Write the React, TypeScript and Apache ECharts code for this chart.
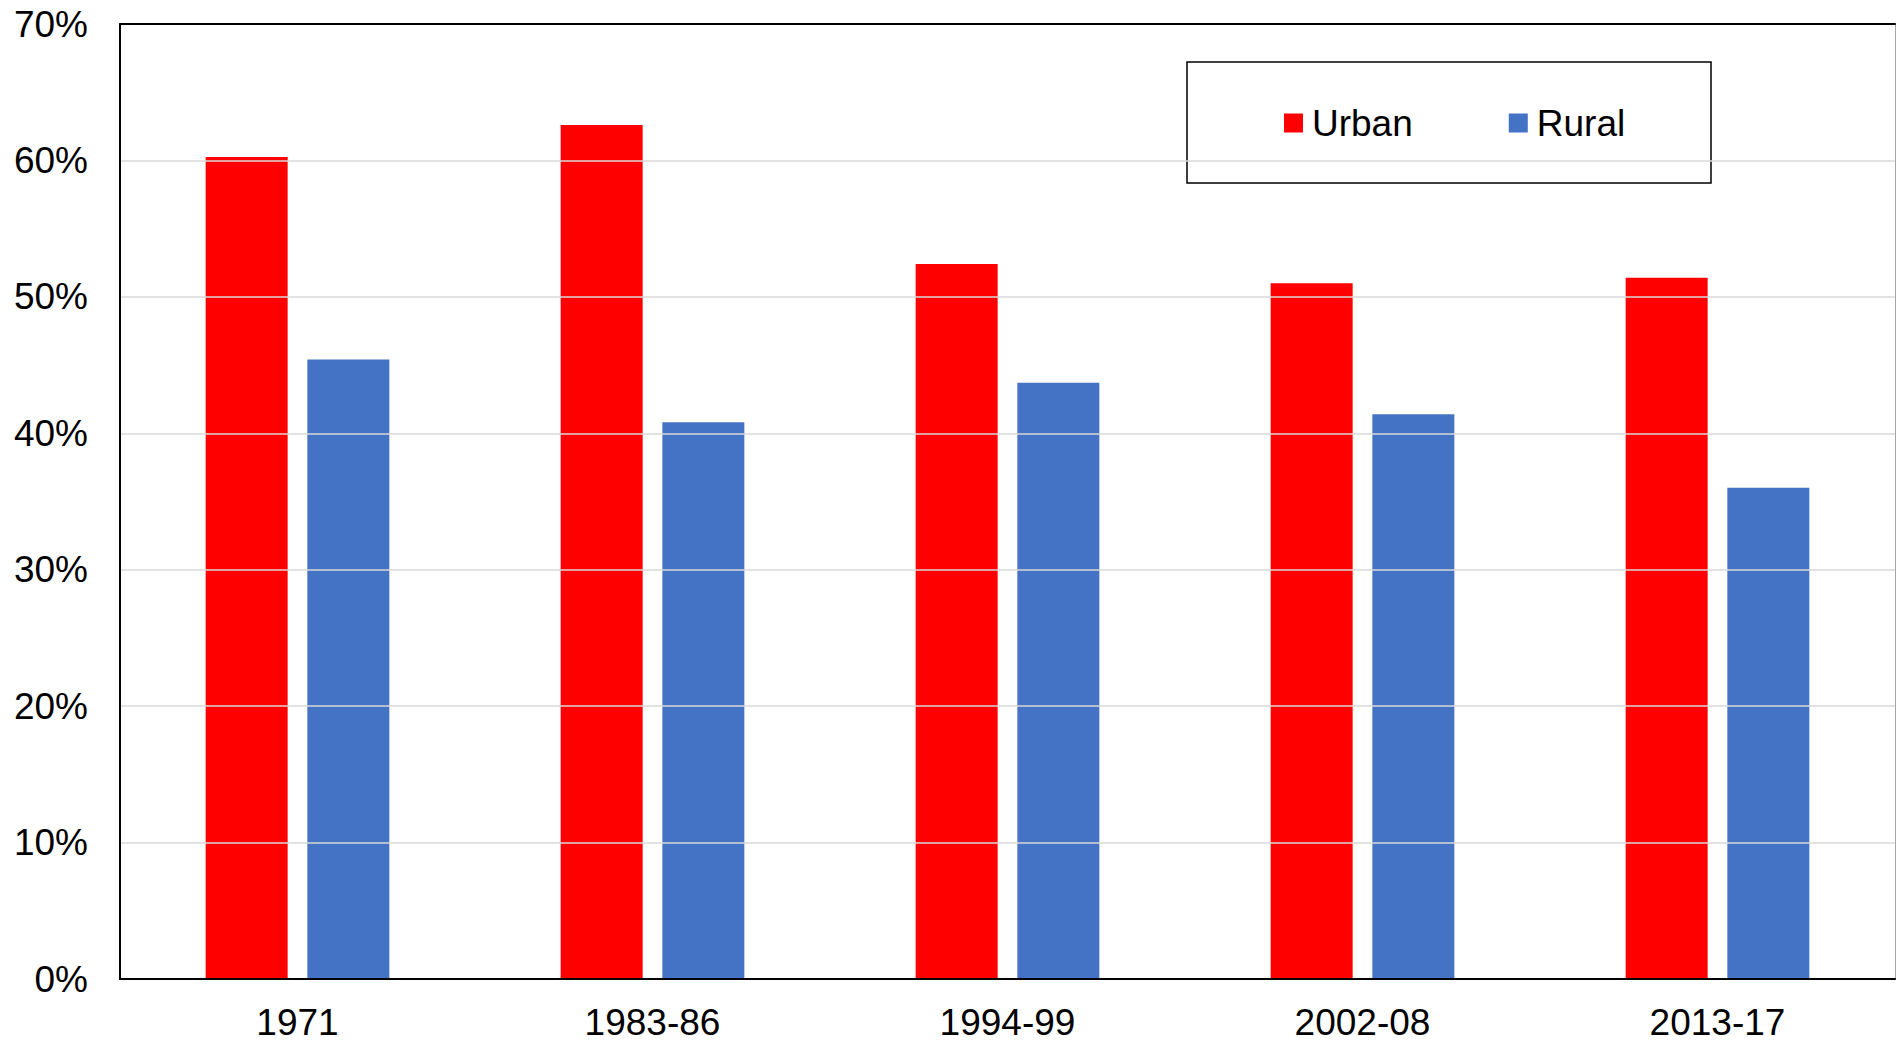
import React, { useEffect, useRef } from "react";
import * as echarts from "echarts";

const categories = ["1971", "1983-86", "1994-99", "2002-08", "2013-17"];
const urbanValues = [60.25, 62.6, 52.4, 51.0, 51.4];
const ruralValues = [45.4, 40.8, 43.7, 41.4, 36.0];
const seriesNames = ["Urban", "Rural"];
const yTicks = { min: 0, max: 70, interval: 10 };

const FONT = "'Liberation Sans', Arial, sans-serif";

export default function App() {
  const ref = useRef<HTMLDivElement>(null);
  useEffect(() => {
    document.body.style.margin = "0";
    const chart = echarts.init(ref.current!, null, { renderer: "svg" });
    chart.setOption({
      animation: false,
      backgroundColor: "#ffffff",
      textStyle: { fontFamily: FONT },
      grid: { left: 120, top: 24, right: 1, bottom: 62, containLabel: false },
      legend: {
        data: seriesNames,
        left: 1284,
        top: 104,
        padding: 0,
        itemWidth: 19,
        itemHeight: 19,
        itemGap: 96,
        icon: "rect",
        textStyle: {
          fontSize: 37,
          color: "#000",
          fontFamily: FONT,
          lineHeight: 38,
          padding: [0, 0, 0, 4],
        },
      },
      graphic: [
        {
          type: "rect",
          shape: { x: 1187, y: 62, width: 524, height: 121 },
          style: { fill: "#ffffff", stroke: "#000000", lineWidth: 1.5 },
          z: -1,
          zlevel: 0,
        },
      ],
      xAxis: [
        {
          type: "category",
          data: categories,
          position: "bottom",
          z: 10,
          axisLine: { show: true, onZero: false, lineStyle: { color: "#000", width: 2 } },
          axisTick: { show: false },
          axisLabel: {
            fontSize: 37,
            lineHeight: 36,
            color: "#000",
            margin: 25,
            fontFamily: FONT,
          },
          splitLine: { show: false },
        },
        {
          type: "category",
          data: categories,
          position: "top",
          z: 10,
          axisLine: { show: true, onZero: false, lineStyle: { color: "#000", width: 2 } },
          axisTick: { show: false },
          axisLabel: { show: false },
          splitLine: { show: false },
        },
      ],
      yAxis: [
        {
          type: "value",
          min: yTicks.min,
          max: yTicks.max,
          interval: yTicks.interval,
          z: 10,
          axisLine: { show: true, onZero: false, lineStyle: { color: "#000", width: 2 } },
          axisTick: { show: false },
          axisLabel: {
            formatter: "{value}%",
            fontSize: 37,
            color: "#000",
            margin: 32,
            fontFamily: FONT,
          },
          splitLine: {
            show: true,
            showMinLine: false,
            showMaxLine: false,
            lineStyle: { color: "#d9d9d9", width: 1.5 },
          },
        },
        {
          type: "value",
          min: yTicks.min,
          max: yTicks.max,
          interval: yTicks.interval,
          position: "right",
          axisLine: { show: true, onZero: false, lineStyle: { color: "#a6a6a6", width: 1 } },
          axisTick: { show: false },
          axisLabel: { show: false },
          splitLine: { show: false },
        },
      ],
      series: [
        {
          name: seriesNames[0],
          type: "bar",
          data: urbanValues,
          barWidth: 82,
          barGap: "24%",
          itemStyle: { color: "#ff0000" },
        },
        {
          name: seriesNames[1],
          type: "bar",
          data: ruralValues,
          barWidth: 82,
          barGap: "24%",
          itemStyle: { color: "#4472c4" },
        },
      ],
    });
    return () => chart.dispose();
  }, []);
  return (
    <div
      ref={ref}
      style={{ position: "absolute", left: 0, top: 0, width: 1896, height: 1041 }}
    />
  );
}
